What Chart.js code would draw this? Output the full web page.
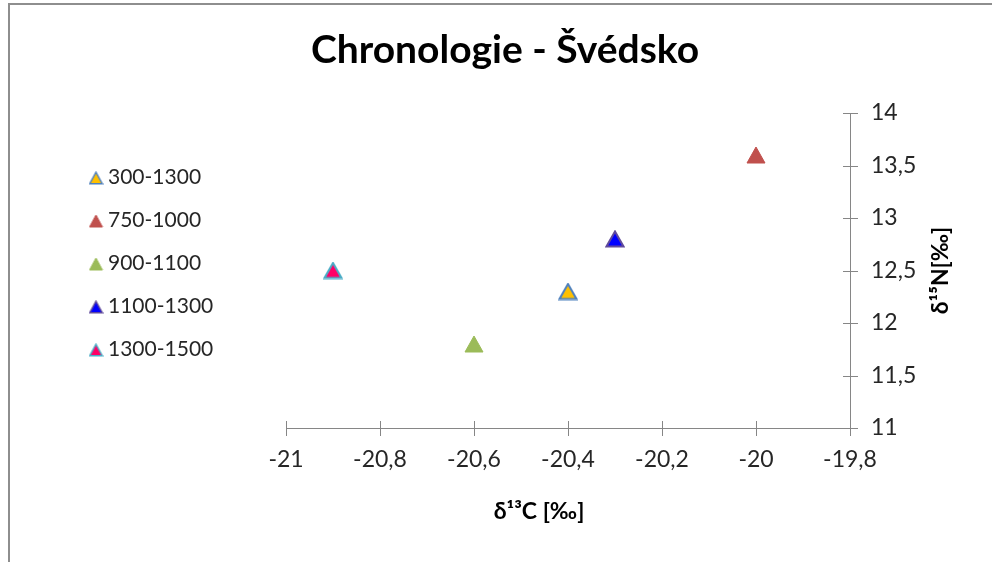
<!DOCTYPE html>
<html>
<head>
<meta charset="utf-8">
<script src="https://cdn.jsdelivr.net/npm/chart.js@4.4.1/dist/chart.umd.min.js"></script>
<style>
    html, body { margin: 0; padding: 0; background: #fff; }
    #wrap { position: relative; width: 992px; height: 562px; overflow: hidden; }
    #frame {
        position: absolute; left: 8px; top: 3px; width: 1000px; height: 600px;
        border-top: 2px solid #8e8e8e; border-left: 2px solid #8e8e8e;
        pointer-events: none;
    }
    canvas { position: absolute; left: 0; top: 0; }
</style>
</head>
<body>
<div id="wrap">
    <canvas id="chart" width="992" height="562"></canvas>
    <div id="frame"></div>
</div>
<script>
// Data
const seriesLabels = ['300-1300', '750-1000', '900-1100', '1100-1300', '1300-1500'];
const carbonValues = [-20.4, -20.0, -20.6, -20.3, -20.9];   // δ13C
const nitrogenValues = [12.3, 13.6, 11.8, 12.8, 12.5];      // δ15N
const fillColors = ['#FFC000', '#C0504D', '#9BBB59', '#0000FF', '#FF0066'];
const edgeColors = ['#4F81BD', '#C0504D', '#9BBB59', '#604A9B', '#4BACC6'];
const xTicks = [-21, -20.8, -20.6, -20.4, -20.2, -20, -19.8];
const yTicks = [11, 11.5, 12, 12.5, 13, 13.5, 14];

const chartTitle = 'Chronologie - Švédsko';
const xTitle = 'δ¹³C [‰]';
const yTitle = 'δ¹⁵N[‰]';

const fontFamily = 'Lato, "Liberation Sans", sans-serif';
const axisColor = '#868686';
const textColor = '#262626';

const comma = v => String(Number(v.toFixed(1))).replace('.', ',');

// Excel-like triangle marker, centred on its bounding box
function triangleMarker(fill, edge, w, h, lw) {
    const c = document.createElement('canvas');
    c.width = w;
    c.height = h;
    const g = c.getContext('2d');
    const m = lw / 2 + 0.5;
    g.beginPath();
    g.moveTo(w / 2, m);
    g.lineTo(w - m, h - m);
    g.lineTo(m, h - m);
    g.closePath();
    g.fillStyle = fill;
    g.fill();
    g.lineWidth = lw;
    g.strokeStyle = edge;
    g.stroke();
    return c;
}

const datasets = seriesLabels.map((label, i) => {
    const lw = edgeColors[i] === fillColors[i] ? 1 : 2;
    return {
        label: label,
        data: [{ x: carbonValues[i], y: nitrogenValues[i] }],
        pointStyle: triangleMarker(fillColors[i], edgeColors[i], 20, 18, lw),
        legendMarker: triangleMarker(fillColors[i], edgeColors[i], 15, 14, lw === 1 ? 1 : 1.5),
        pointRadius: 10,
        backgroundColor: fillColors[i],
        borderColor: edgeColors[i]
    };
});

// crossing tick marks, titles and the legend on the left
const decorations = {
    id: 'decorations',
    afterDraw(chart) {
        const ctx = chart.ctx;
        const xs = chart.scales.x;
        const ys = chart.scales.y;
        const area = chart.chartArea;
        ctx.save();
        ctx.strokeStyle = axisColor;
        ctx.lineWidth = 1;
        ctx.beginPath();
        xs.ticks.forEach(t => {
            const px = Math.round(xs.getPixelForValue(t.value)) + 0.5;
            ctx.moveTo(px, area.bottom - 7);
            ctx.lineTo(px, area.bottom + 8);
        });
        ys.ticks.forEach(t => {
            const py = Math.round(ys.getPixelForValue(t.value)) + 0.5;
            ctx.moveTo(area.right - 7, py);
            ctx.lineTo(area.right + 8, py);
        });
        ctx.stroke();

        // chart title
        ctx.fillStyle = '#000';
        ctx.textAlign = 'center';
        ctx.textBaseline = 'middle';
        ctx.font = 'bold 39px ' + fontFamily;
        ctx.fillText(chartTitle, 505, 50);

        // axis titles
        ctx.font = 'bold 23px ' + fontFamily;
        ctx.fillText(xTitle, 539, 512);
        ctx.save();
        ctx.translate(941, (area.top + area.bottom) / 2);
        ctx.rotate(-Math.PI / 2);
        ctx.fillText(yTitle, 0, 0);
        ctx.restore();

        // legend
        ctx.font = '21px ' + fontFamily;
        ctx.textAlign = 'left';
        chart.data.datasets.forEach((ds, i) => {
            const cy = 177 + i * 43;
            const mk = ds.legendMarker;
            ctx.drawImage(mk, 96 - mk.width / 2, cy + 1 - mk.height / 2);
            ctx.fillStyle = textColor;
            ctx.fillText(ds.label, 108, cy);
        });
        ctx.restore();
    }
};

new Chart(document.getElementById('chart').getContext('2d'), {
    type: 'scatter',
    data: { datasets: datasets },
    options: {
        responsive: false,
        animation: false,
        layout: { padding: { left: 286, top: 113, right: 0, bottom: 0 } },
        plugins: {
            legend: { display: false },
            tooltip: { enabled: false }
        },
        scales: {
            x: {
                type: 'linear',
                min: xTicks[0],
                max: xTicks[xTicks.length - 1],
                afterBuildTicks: scale => { scale.ticks = xTicks.map(v => ({ value: v })); },
                afterFit: scale => { scale.height = 134; },
                grid: { display: false },
                border: { display: true, color: axisColor, width: 1 },
                ticks: {
                    padding: 10,
                    color: textColor,
                    font: { family: fontFamily, size: 23 },
                    maxRotation: 0,
                    callback: v => comma(v)
                }
            },
            y: {
                type: 'linear',
                position: 'right',
                min: yTicks[0],
                max: yTicks[yTicks.length - 1],
                afterBuildTicks: scale => { scale.ticks = yTicks.map(v => ({ value: v })); },
                afterFit: scale => { scale.width = 142; },
                grid: { display: false },
                border: { display: true, color: axisColor, width: 1 },
                ticks: {
                    padding: 13,
                    color: textColor,
                    font: { family: fontFamily, size: 23 },
                    callback: v => comma(v)
                }
            }
        }
    },
    plugins: [decorations]
});
</script>
</body>
</html>
